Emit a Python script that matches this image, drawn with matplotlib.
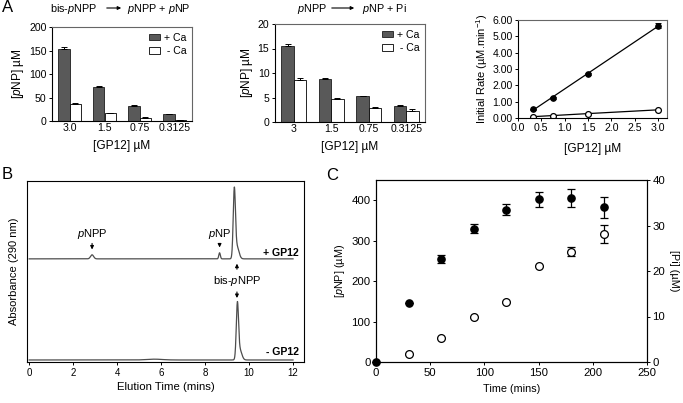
import numpy as np
import matplotlib
matplotlib.use("Agg")
import matplotlib.pyplot as plt
from matplotlib.patches import Patch

plt.rcParams['font.family'] = ['Liberation Sans', 'DejaVu Sans']
plt.rcParams['mathtext.fontset'] = 'custom'
plt.rcParams['mathtext.rm'] = 'Liberation Sans'
plt.rcParams['mathtext.it'] = 'Liberation Sans:italic'
plt.rcParams['axes.linewidth'] = 0.8

# ---------------- data ----------------
conc_labels_a1 = ["3.0", "1.5", "0.75", "0.3125"]
a1_plus = [153, 72, 32, 14]
a1_plus_err = [5, 1.5, 1.5, 1.0]
a1_minus = [36, 17, 7, 2]
a1_minus_err = [3, 0.5, 1.0, 0.5]

conc_labels_a2 = ["3", "1.5", "0.75", "0.3125"]
a2_plus = [15.6, 8.7, 5.3, 3.3]
a2_plus_err = [0.4, 0.35, 0.1, 0.1]
a2_minus = [8.5, 4.7, 2.8, 2.2]
a2_minus_err = [0.5, 0.15, 0.3, 0.4]

a3_conc = [0.3125, 0.75, 1.5, 3.0]
a3_plus = [0.55, 1.22, 2.70, 5.65]
a3_plus_err = [0.03, 0.04, 0.05, 0.15]
a3_minus = [0.08, 0.15, 0.27, 0.50]

# chromatogram peaks (time, height, width) for each trace
b_upper_peaks_t = [2.86, 8.66, 9.33, 9.45]
b_upper_peaks_h = [0.04, 0.06, 0.66, 0.12]
b_upper_peaks_w = [0.07, 0.035, 0.05, 0.09]
b_lower_peaks_t = [5.7, 9.47, 9.58]
b_lower_peaks_h = [0.008, 0.53, 0.10]
b_lower_peaks_w = [0.35, 0.05, 0.09]

c_time = [0, 30, 60, 90, 120, 150, 180, 210]
c_pnp = [0, 145, 255, 330, 377, 402, 405, 383]
c_pnp_err = [0, 0, 10, 12, 14, 18, 22, 26]
c_pi = [0, 1.8, 5.2, 9.8, 13.2, 21.2, 24.2, 28.2]
c_pi_err = [0, 0, 0, 0, 0, 0, 1.0, 2.0]

# ---------------- figure ----------------
W, H = 683, 403
fig = plt.figure(figsize=(W / 100, H / 100), dpi=100)

def ax_px(l, r, t, b):
    return fig.add_axes([l / W, 1 - b / H, (r - l) / W, (b - t) / H])

def ftext(x, y, s, **kw):
    fig.text(x / W, 1 - y / H, s, **kw)

def farrow(x0, x1, y):
    fig.add_artist(matplotlib.patches.FancyArrowPatch(
        (x0 / W, 1 - y / H), (x1 / W, 1 - y / H), transform=fig.transFigure,
        arrowstyle='-|>', mutation_scale=5, lw=0.8, color='black'))

dark = '#595959'
tick_fs = 7.6
lab_fs = 8.6
title_fs = 7.8

def bar_panel(ax, plus, perr, minus, merr, labels, ymax, ystep):
    x = np.arange(len(labels))
    w = 0.33
    ax.bar(x - w / 2, plus, w, color=dark, edgecolor='black', lw=0.5)
    ax.bar(x + w / 2, minus, w, color='white', edgecolor='black', lw=0.6)
    ax.errorbar(x - w / 2, plus, yerr=[np.zeros(len(x)), perr], fmt='none',
                ecolor='black', elinewidth=0.7, capsize=2, capthick=0.7)
    ax.errorbar(x + w / 2, minus, yerr=[np.zeros(len(x)), merr], fmt='none',
                ecolor='black', elinewidth=0.7, capsize=2, capthick=0.7)
    ax.set_xlim(-0.5, len(x) - 0.5)
    ax.set_ylim(0, ymax)
    ax.set_yticks(np.arange(0, ymax + 0.1, ystep))
    ax.set_xticks(x)
    ax.set_xticklabels(labels)
    ax.tick_params(labelsize=tick_fs, length=2.5, width=0.7, pad=1.5)
    ax.tick_params(axis='x', length=0)
    for s in ['top', 'right']:
        ax.spines[s].set_color('#666666')
    ax.set_ylabel('[$\\it{p}$NP] µM', fontsize=lab_fs, labelpad=2)
    ax.set_xlabel('[GP12] µM', fontsize=lab_fs, labelpad=5)
    handles = [Patch(facecolor=dark, edgecolor='black', lw=0.5, label='+ Ca'),
               Patch(facecolor='white', edgecolor='black', lw=0.6, label=' - Ca')]
    ax.legend(handles=handles, loc='upper right', frameon=False, fontsize=tick_fs,
              handlelength=1.1, handleheight=0.6, handletextpad=0.3,
              labelspacing=0.3, borderaxespad=0.15)

# A1
ax1 = ax_px(52, 192, 27, 121)
bar_panel(ax1, a1_plus, a1_plus_err, a1_minus, a1_minus_err, conc_labels_a1, 200, 50)
# A2
ax2 = ax_px(275, 425, 24, 122)
bar_panel(ax2, a2_plus, a2_plus_err, a2_minus, a2_minus_err, conc_labels_a2, 20, 5)

# titles of A1/A2
ftext(50, 9, 'bis-$\\it{p}$NPP', fontsize=title_fs, va='center', ha='left')
farrow(104, 124, 8)
ftext(127, 9, '$\\it{p}$NPP + $\\it{p}$NP', fontsize=title_fs, va='center', ha='left')
ftext(297, 9, '$\\it{p}$NPP', fontsize=title_fs, va='center', ha='left')
farrow(329, 357, 8)
ftext(362, 9, '$\\it{p}$NP + Pi', fontsize=title_fs, va='center', ha='left')

# A3
ax3 = ax_px(518, 667, 20, 118)
coef = np.polyfit(a3_conc, a3_plus, 1)
xx = np.array([a3_conc[0], a3_conc[-1]])
ax3.plot(xx, np.polyval(coef, xx), color='black', lw=0.9)
ax3.errorbar(a3_conc, a3_plus, yerr=a3_plus_err, fmt='o', ms=3.8, color='black',
             elinewidth=0.7, capsize=2, capthick=0.7)
ax3.plot(a3_conc, a3_minus, '-o', color='black', mfc='white', ms=4.2, mew=0.9, lw=0.9)
ax3.set_xlim(0, 3.19)
ax3.set_ylim(0, 6)
ax3.set_xticks(np.arange(0, 3.01, 0.5))
ax3.set_xticklabels([f'{v:.1f}' for v in np.arange(0, 3.01, 0.5)])
ax3.set_yticks(np.arange(0, 6.01, 1))
ax3.set_yticklabels([f'{v:.2f}' for v in np.arange(0, 6.01, 1)])
ax3.tick_params(labelsize=tick_fs, length=2.5, width=0.7, pad=1.2)
for s in ['top', 'right']:
    ax3.spines[s].set_color('#666666')
ax3.set_ylabel('Initial Rate (µM.min$^{-1}$)', fontsize=8, labelpad=2)
ax3.set_xlabel('[GP12] µM', fontsize=lab_fs, labelpad=7)

# B
axb = ax_px(27, 304, 181, 362)
t = np.linspace(0, 12, 2400)

def trace(ts, hs, ws):
    y = np.zeros_like(t)
    for c, h, w in zip(ts, hs, ws):
        y += h * np.exp(-0.5 * ((t - c) / w) ** 2)
    return y

upper = 1.0 + trace(b_upper_peaks_t, b_upper_peaks_h, b_upper_peaks_w)
lower = 0.0 + trace(b_lower_peaks_t, b_lower_peaks_h, b_lower_peaks_w)
axb.plot(t, upper, color='#4d4d4d', lw=0.9)
axb.plot(t, lower, color='#4d4d4d', lw=0.9)
axb.set_xlim(-0.1, 12.5)
axb.set_ylim(-0.02, 1.77)
axb.set_yticks([])
axb.set_xticks(np.arange(0, 12.1, 2))
axb.tick_params(labelsize=7, length=2, width=0.7, pad=2)
axb.set_xlabel('Elution Time (mins)', fontsize=8.2, labelpad=3)
axb.set_ylabel('Absorbance (290 nm)', fontsize=8, labelpad=6)
arrow_kw = dict(arrowstyle='-|>', mutation_scale=5, lw=0.8, color='black')
axb.annotate('', xy=(2.86, 1.065), xytext=(2.86, 1.18), arrowprops=arrow_kw)
axb.text(2.86, 1.25, '$\\it{p}$NPP', fontsize=8, ha='center', va='center')
axb.annotate('', xy=(8.66, 1.085), xytext=(8.66, 1.18), arrowprops=arrow_kw)
axb.text(8.66, 1.25, '$\\it{p}$NP', fontsize=8, ha='center', va='center')
axb.annotate('', xy=(9.45, 0.98), xytext=(9.45, 0.87), arrowprops=arrow_kw)
axb.text(9.45, 0.78, 'bis-$\\it{p}$NPP', fontsize=8, ha='center', va='center')
axb.annotate('', xy=(9.45, 0.585), xytext=(9.45, 0.70), arrowprops=arrow_kw)
axb.text(12.25, 1.06, '+ GP12', fontsize=7.6, fontweight='bold', ha='right', va='center')
axb.text(12.25, 0.08, '- GP12', fontsize=7.6, fontweight='bold', ha='right', va='center')

# C
axc = ax_px(376, 647, 180, 362)
axc.errorbar(c_time, c_pnp, yerr=c_pnp_err, fmt='o', ms=5.2, color='black',
             elinewidth=0.9, capsize=3, capthick=0.9, clip_on=False, zorder=3)
axc.set_xlim(0, 250)
axc.set_ylim(0, 450)
axc.set_xticks(np.arange(0, 251, 50))
axc.set_yticks(np.arange(0, 401, 100))
axc.tick_params(labelsize=8.2, length=2.5, width=0.7, pad=1.5)
axc.set_xlabel('Time (mins)', fontsize=7.8, labelpad=5)
axc.set_ylabel('[$\\it{p}$NP] (µM)', fontsize=7.8, labelpad=3)
axc2 = axc.twinx()
axc2.errorbar(c_time[1:], c_pi[1:], yerr=c_pi_err[1:], fmt='o', ms=5.6, color='black',
              mfc='white', mew=0.9, elinewidth=0.9, capsize=3, capthick=0.9, zorder=3)
axc2.set_ylim(0, 40)
axc2.set_yticks(np.arange(0, 41, 10))
axc2.tick_params(labelsize=8.2, length=2.5, width=0.7, pad=1.5)
axc2.set_ylabel('[Pi] (µM)', fontsize=7.8, rotation=270, labelpad=10)

# panel letters
ftext(2, 8, 'A', fontsize=12, va='center', ha='left')
ftext(2, 174, 'B', fontsize=12, va='center', ha='left')
ftext(326, 176, 'C', fontsize=12, va='center', ha='left')

fig.savefig('out.png', dpi=100)
